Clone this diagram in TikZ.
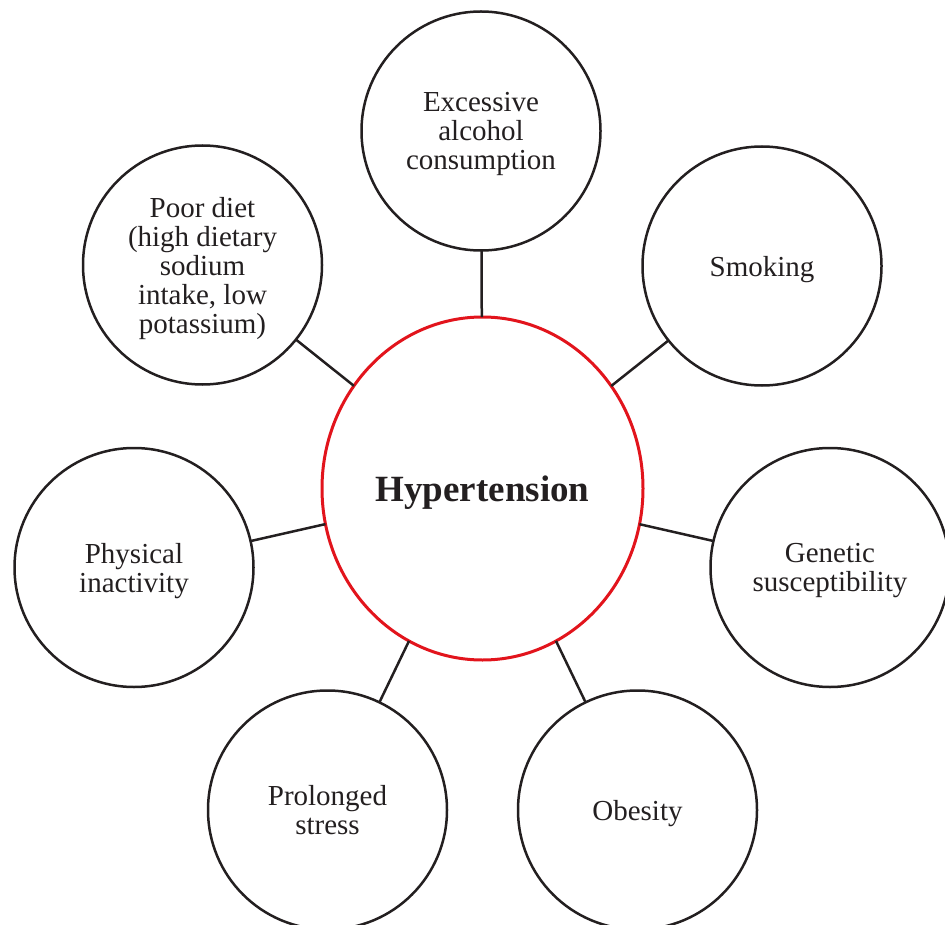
\documentclass[tikz,border=0pt]{standalone}
\usepackage{fontspec}
\setmainfont{Liberation Serif}
\usetikzlibrary{shapes.geometric}
\definecolor{hred}{RGB}{226,20,28}
\definecolor{ink}{RGB}{35,31,32}
\tikzset{
  factor/.style={circle, draw=ink, line width=2.5pt, minimum size=239pt, inner sep=0pt, outer sep=0pt,
    align=center, text=ink, text depth=0pt, font=\fontsize{29}{29}\selectfont},
  hub/.style={ellipse, draw=hred, line width=3pt, minimum width=321pt, minimum height=343pt, inner sep=0pt, outer sep=0pt,
    text=ink, text depth=0pt, font=\fontsize{37}{40}\selectfont\bfseries},
  link/.style={draw=ink, line width=2.5pt}
}
\begin{document}
\begin{tikzpicture}[x=1pt,y=-1pt]
\useasboundingbox (0,0) rectangle (945,925);
\node[hub] (hyp) at (482.5,488.5) {Hypertension};
\node[factor] (alc) at (481,131) {Excessive\\alcohol\\consumption};
\node[factor] (smk) at (762,266) {Smoking};
\node[factor] (diet) at (202.5,265) {Poor diet\\(high dietary\\sodium\\intake, low\\potassium)};
\node[factor] (phys) at (134,567.5) {Physical\\inactivity};
\node[factor] (gen) at (830,567.5) {Genetic\\susceptibility};
\node[factor] (str) at (327.5,810) {Prolonged\\stress};
\node[factor] (obe) at (637.5,810) {Obesity};
\foreach \n in {alc,smk,diet,phys,gen,str,obe}
  \draw[link] (hyp) -- (\n);
\end{tikzpicture}
\end{document}
